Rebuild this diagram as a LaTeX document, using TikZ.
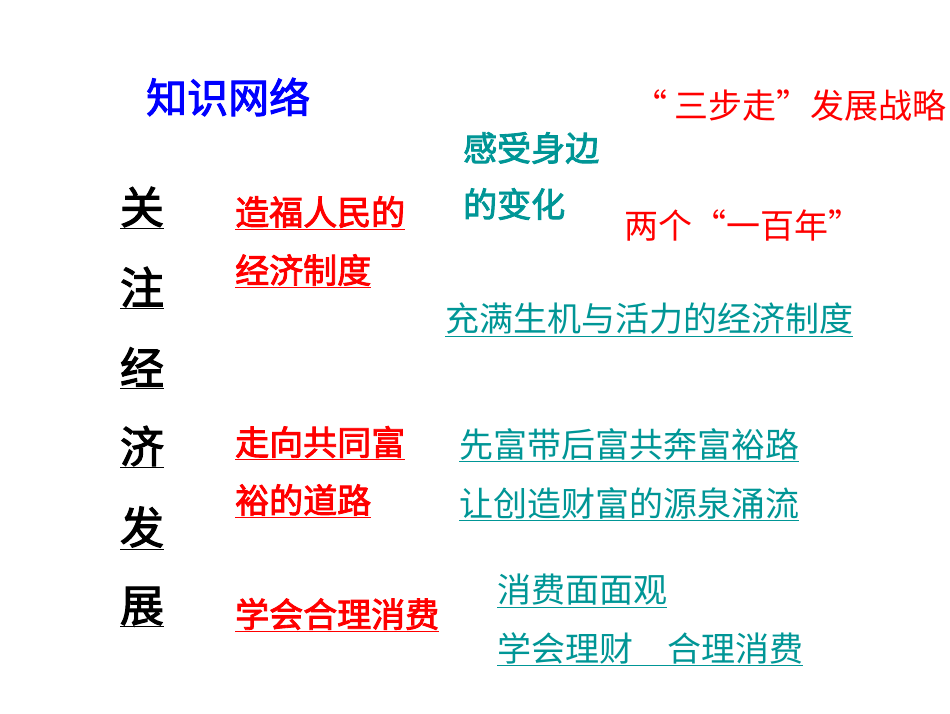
\documentclass[tikz,border=0pt]{standalone}
\usepackage{fontspec}
\newfontfamily\cjk[AutoFakeBold=2.5]{Noto Sans CJK SC}
\definecolor{tealc}{RGB}{0,150,150}
\definecolor{redc}{RGB}{255,0,0}
\definecolor{bluec}{RGB}{0,0,255}
\begin{document}
\begin{tikzpicture}[x=1pt,y=-1pt,
  t/.style={anchor=west,inner sep=0pt,font=\cjk\fontsize{34}{38}\selectfont},
  rb/.style={t,text=redc,font=\cjk\bfseries\fontsize{34}{38}\selectfont},
  rr/.style={t,text=redc,font=\cjk\fontsize{34}{38}\selectfont},
  tl/.style={t,text=tealc},
  tb/.style={t,text=tealc,font=\cjk\bfseries\fontsize{34}{38}\selectfont},
  big/.style={anchor=center,inner sep=0pt,font=\cjk\bfseries\fontsize{44}{48}\selectfont}]
\fill[white] (0,0) rectangle (950,713);
\node[t,text=bluec,font=\cjk\bfseries\fontsize{41}{45}\selectfont] (title) at (146,97) {知识网络};
\node[rr] (sbz) at (633,106) {“ 三步走”发展战略};
\node[tb] (gs1) at (463,148) {感受身边};
\node[tb] (gs2) at (463,204) {的变化};
\node[rr] (lg) at (624,225) {两个“一百年”};
\foreach \c/\y [count=\i] in {关/208,注/288,经/368,济/447,发/528,展/607}
  \node[big] (v\i) at (142,\y) {\underline{\c}};
\node[rb] (a1) at (235,213) {\underline{造福人民的}};
\node[rb] (a2) at (235,271) {\underline{经济制度}};
\node[tl] (a3) at (445,320) {\underline{充满生机与活力的经济制度}};
\node[rb] (b1) at (235,443) {\underline{走向共同富}};
\node[rb] (b2) at (235,501) {\underline{裕的道路}};
\node[tl] (b3) at (459,445) {\underline{先富带后富共奔富裕路}};
\node[tl] (b4) at (459,504) {\underline{让创造财富的源泉涌流}};
\node[rb] (c1) at (235,615) {\underline{学会合理消费}};
\node[tl] (c2) at (497,591) {\underline{消费面面观}};
\node[tl] (c3) at (497,649) {\underline{学会理财\quad 合理消费}};
\end{tikzpicture}
\end{document}
